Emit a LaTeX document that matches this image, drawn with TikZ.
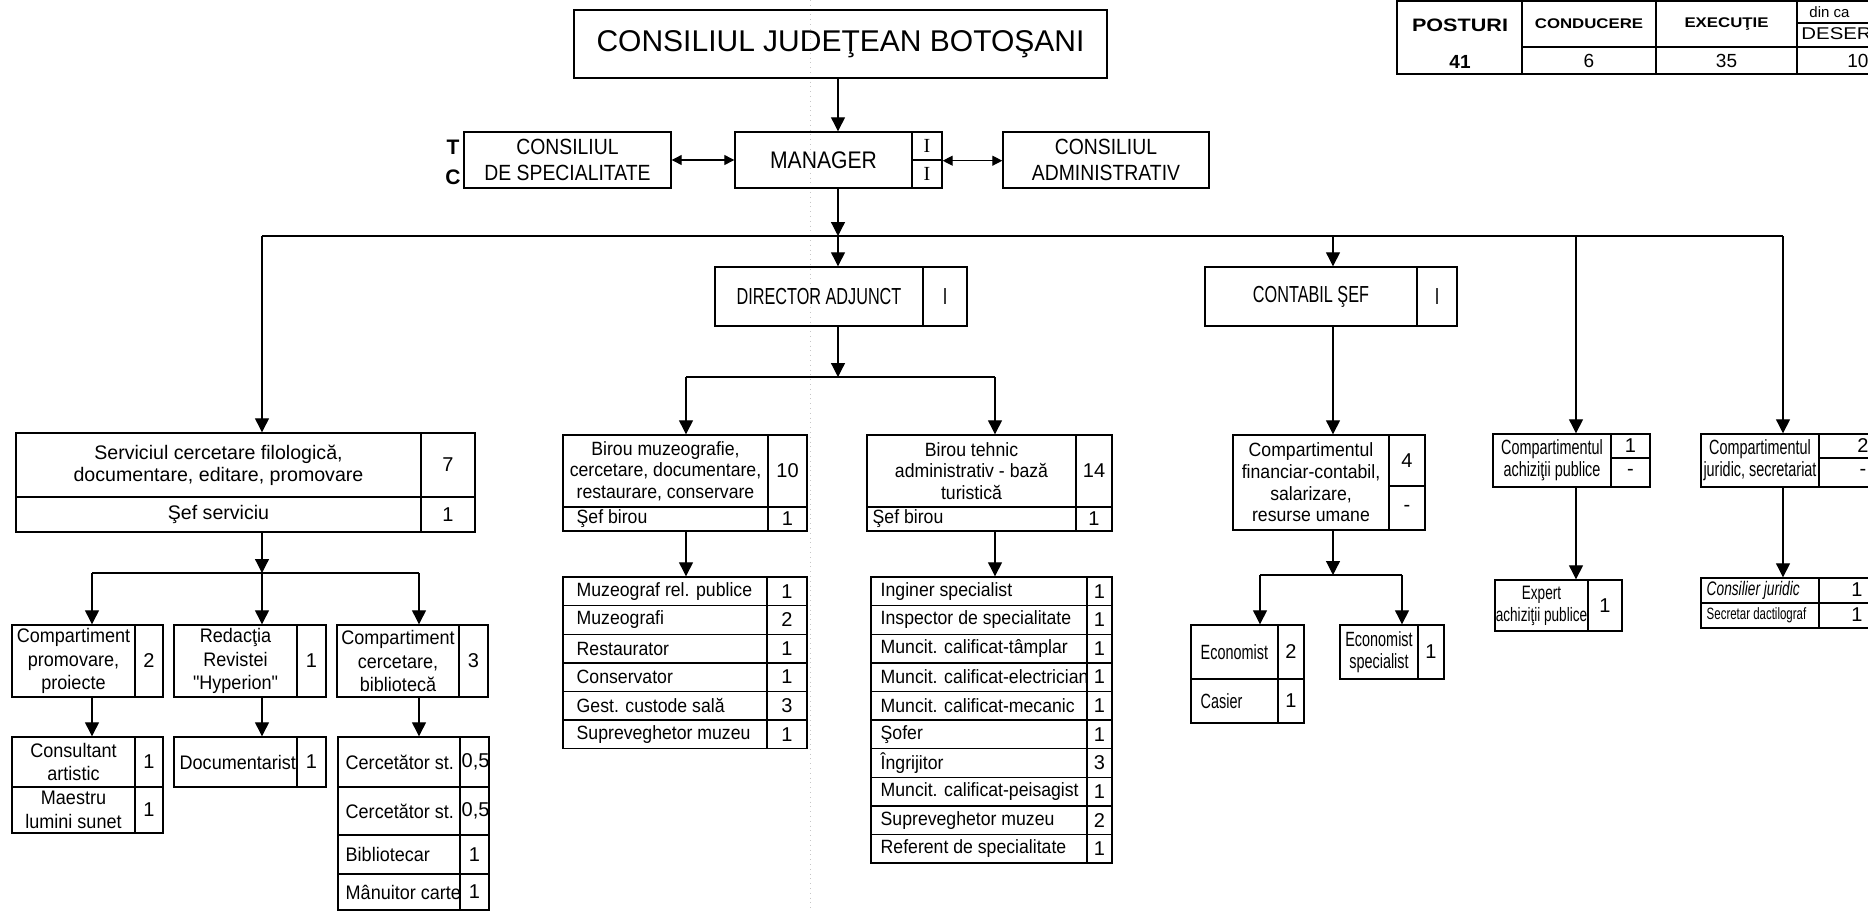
\documentclass[tikz,border=0pt]{standalone}
\usepackage{fontspec}
\usepackage{tikz}
\usetikzlibrary{arrows.meta,fit,positioning}
\setmainfont{Liberation Sans}
\newfontfamily\narrowfont[FakeStretch=0.88]{Liberation Sans}
\newfontfamily\condfont[FakeStretch=0.7]{Liberation Sans}
\newfontfamily\bodyfont[FakeStretch=0.92]{Liberation Sans}
\newfontfamily\widefont[FakeStretch=1.2]{Liberation Sans}
\newfontfamily\romanfont{Liberation Serif}
\newcommand{\fTitle}{\fontsize{15}{18}\selectfont}
\newcommand{\fHead}{\narrowfont\fontsize{11}{12.8}\selectfont}
\newcommand{\fMgr}{\narrowfont\fontsize{12}{14}\selectfont}
\newcommand{\fCond}{\condfont\fontsize{11.6}{14}\selectfont}
\newcommand{\fLetter}{\bfseries\fontsize{10.5}{12}\selectfont}
\newcommand{\fRoman}{\romanfont\fontsize{10}{12}\selectfont}
\newcommand{\fServ}{\fontsize{9.8}{10.8}\selectfont}
\newcommand{\fBody}{\bodyfont\fontsize{9.6}{10.8}\selectfont}
\newcommand{\fBox}{\bodyfont\fontsize{9.8}{11.7}\selectfont}
\newcommand{\fRight}{\condfont\fontsize{10.3}{11}\selectfont}
\newcommand{\fNum}{\fontsize{10}{12}\selectfont}
\newcommand{\fSmall}{\condfont\fontsize{8.2}{10}\selectfont}
\newcommand{\fPost}{\widefont\bfseries\fontsize{9}{11}\selectfont}
\newcommand{\fColHead}{\widefont\bfseries\fontsize{7}{9}\selectfont}
\newcommand{\fTabNum}{\fontsize{9.5}{11}\selectfont}
%% a framed cell between two corners, with its text in the middle
\newcommand{\cellbox}[5][]{%
    \node[cell, fit={(#3)(#4)}] (#2) {};
    \node[txt, #1] (#2t) at (#2.center) {#5};}

\begin{document}
\begin{tikzpicture}[x=0.5pt, y=-0.5pt,
    cell/.style={draw, line width=0.7pt, inner sep=0pt},
    txt/.style={inner sep=0pt, align=center},
    link/.style={line width=0.6pt},
    arr/.style={line width=0.6pt, -{Triangle[length=7pt,width=7pt]}},
    twoway/.style={line width=0.6pt, {Triangle[length=5pt,width=5pt]}-{Triangle[length=5pt,width=5pt]}},
    pagebreak/.style={gray!45, dotted, line width=0.4pt}]
    %% page size of the scan, everything outside is cut away
    \path[use as bounding box] (0,0) rectangle (1868,911);
    \fill[white] (0,0) rectangle (1868,911);
    \clip (0,0) rectangle (1868,911);
    \draw[pagebreak] (810,0) -- (810,911);

    %% head of the chart
    \cellbox[font=\fTitle]{cjb}{574,10}{1107,78}{CONSILIUL JUDEŢEAN BOTOŞANI}
    \cellbox[font=\fHead]{cds}{464,132}{671,188}{CONSILIUL\\DE SPECIALITATE}
    \node[txt, font=\fLetter] (tl) at (453,147) {T};
    \node[txt, font=\fLetter] (cl) at (453,177) {C};
    \cellbox[font=\fMgr]{mgr}{735,132}{912,188}{MANAGER}
    \cellbox[font=\fRoman]{mgra}{912,132}{942,160}{I}
    \cellbox[font=\fRoman]{mgrb}{912,160}{942,188}{I}
    \cellbox[font=\fHead]{cad}{1003,132}{1209,188}{CONSILIUL\\ADMINISTRATIV}

    %% posts table, cut by the edge of the page
    \node[cell, fit={(1397,1)(1522,74)}] (post) {};
    \node[txt, font=\fPost] (postt) at (1460,25) {POSTURI};
    \node[txt, font=\bfseries\fTabNum] (postn) at (1460,62) {41};
    \cellbox[font=\fColHead]{cond}{1522,1}{1656,47}{CONDUCERE}
    \cellbox[font=\fTabNum]{condn}{1522,47}{1656,74}{6}
    \cellbox[font=\fColHead]{exe}{1656,1}{1797,47}{EXECUŢIE}
    \cellbox[font=\fTabNum]{exen}{1656,47}{1797,74}{35}
    \node[cell, fit={(1797,1)(1940,23)}] (dinc) {};
    \node[cell, fit={(1797,23)(1940,47)}] (des) {};
    \node[cell, fit={(1797,47)(1940,74)}] (desn) {};
    \node[txt, anchor=west, font=\fontsize{7.5}{9}\selectfont] (dinct) at (1809,12) {din ca};
    \node[txt, anchor=west, font=\widefont\fontsize{8.5}{10}\selectfont] (dest) at (1801,34) {DESER};
    \node[txt, anchor=west, font=\fTabNum] (desnt) at (1847,61) {10};

    %% second level
    \cellbox[font=\fCond]{da}{715,267}{923,326}{DIRECTOR ADJUNCT}
    \cellbox[font=\fCond]{dav}{923,267}{967,326}{I}
    \cellbox[font=\fCond]{cse}{1205,267}{1417,326}{CONTABIL ŞEF}
    \cellbox[font=\fCond]{csev}{1417,267}{1457,326}{I}

    %% serviciul (left branch)
    \cellbox[font=\fServ]{serv}{16,433}{421,497}{Serviciul cercetare filologică,\\documentare, editare, promovare}
    \cellbox[font=\fNum]{servv}{421,433}{475,497}{7}
    \cellbox[font=\fServ]{servs}{16,497}{421,532}{Şef serviciu}
    \cellbox[font=\fNum]{servsv}{421,497}{475,532}{1}

    \cellbox[font=\fBox]{cpp}{12,625}{135,697}{Compartiment\\promovare,\\proiecte}
    \cellbox[font=\fNum]{cppv}{135,625}{163,697}{2}
    \cellbox[font=\fBox]{rrh}{174,625}{297,697}{Redacţia\\Revistei\\"Hyperion"}
    \cellbox[font=\fNum]{rrhv}{297,625}{326,697}{1}
    \cellbox[font=\fBox]{ccb}{337,625}{459,697}{Compartiment\\cercetare,\\bibliotecă}
    \cellbox[font=\fNum]{ccbv}{459,625}{488,697}{3}

    \cellbox[font=\fBox]{con}{12,737}{135,787}{Consultant\\artistic}
    \cellbox[font=\fNum]{conv}{135,737}{163,787}{1}
    \cellbox[font=\fBox]{mls}{12,787}{135,833}{Maestru\\lumini sunet}
    \cellbox[font=\fNum]{mlsv}{135,787}{163,833}{1}

    \node[cell, fit={(174,737)(297,787)}] (doc) {};
    \node[txt, anchor=west, font=\fBox] (doct) at ([xshift=3pt]doc.west) {Documentarist};
    \cellbox[font=\fNum]{docv}{297,737}{326,787}{1}

    %% cercetare rows have their own heights
    \foreach \lbl/\ya/\yb [count=\i from 0] in {Cercetător st./737/787, Cercetător st./787/835, Bibliotecar/835/874, Mânuitor carte/874/910}{
        \node[cell, fit={(338,\ya)(460,\yb)}] (cst\i) {};
        \node[cell, fit={(460,\ya)(489,\yb)}] (cstv\i) {};
        \node[txt, anchor=west, font=\fBox] (cstt\i) at ([xshift=4pt]cst\i.west) {\lbl};
    }
    \node[txt, anchor=west, font=\fNum] (cstn0) at ([xshift=1pt]cstv0.west) {0,5};
    \node[txt, anchor=west, font=\fNum] (cstn1) at ([xshift=1pt]cstv1.west) {0,5};
    \node[txt, font=\fNum] (cstn2) at (cstv2) {1};
    \node[txt, font=\fNum] (cstn3) at (cstv3) {1};

    %% birouri under the director
    \cellbox[font=\fBody]{bmz}{563,435}{768,507}{Birou muzeografie,\\cercetare, documentare,\\restaurare, conservare}
    \cellbox[font=\fNum]{bmzv}{768,435}{807,507}{10}
    \node[cell, fit={(563,507)(768,531)}] (bmzs) {};
    \node[txt, anchor=west, font=\fBody] (bmzst) at ([xshift=7pt]bmzs.west) {Şef birou};
    \cellbox[font=\fNum]{bmzsv}{768,507}{807,531}{1}

    \cellbox[font=\fBody]{bth}{867,435}{1076,507}{Birou tehnic\\administrativ - bază\\turistică}
    \cellbox[font=\fNum]{bthv}{1076,435}{1112,507}{14}
    \node[cell, fit={(867,507)(1076,531)}] (bths) {};
    \node[txt, anchor=west, font=\fBody] (bthst) at ([xshift=3pt]bths.west) {Şef birou};
    \cellbox[font=\fNum]{bthsv}{1076,507}{1112,531}{1}

    \foreach \lbl/\val [count=\i from 0] in {Muzeograf rel. publice/1, Muzeografi/2, Restaurator/1, Conservator/1, Gest. custode sală/3, Supreveghetor muzeu/1}{
        \pgfmathsetmacro{\ya}{577+28.6*\i}
        \pgfmathsetmacro{\yb}{\ya+28.6}
        \node[cell, fit={(563,\ya)(767,\yb)}] (mz\i) {};
        \cellbox[font=\fNum]{mzv\i}{767,\ya}{807,\yb}{\val}
        \node[txt, anchor=west, font=\fBody] (mzt\i) at ([xshift=7pt]mz\i.west) {\lbl};
    }
    \foreach \lbl/\val [count=\i from 0] in {Inginer specialist/1, Inspector de specialitate/1, Muncit. calificat-tâmplar/1, Muncit. calificat-electrician/1, Muncit. calificat-mecanic/1, Şofer/1, Îngrijitor/3, Muncit. calificat-peisagist/1, Supreveghetor muzeu/2, Referent de specialitate/1}{
        \pgfmathsetmacro{\ya}{577+28.6*\i}
        \pgfmathsetmacro{\yb}{\ya+28.6}
        \node[cell, fit={(871,\ya)(1087,\yb)}] (ing\i) {};
        \cellbox[font=\fNum]{ingv\i}{1087,\ya}{1112,\yb}{\val}
        \node[txt, anchor=west, font=\fBody] (ingt\i) at ([xshift=5pt]ing\i.west) {\lbl};
    }

    %% contabil sef branch
    \cellbox[font=\fBody]{cfc}{1233,435}{1389,530}{Compartimentul\\financiar-contabil,\\salarizare,\\resurse umane}
    \cellbox[font=\fNum]{cfca}{1389,435}{1425,486}{4}
    \cellbox[font=\fNum]{cfcb}{1389,486}{1425,530}{-}

    \node[cell, fit={(1191,625)(1278,679)}] (eco) {};
    \node[txt, anchor=west, font=\fRight] (ecot) at ([xshift=5pt]eco.west) {Economist};
    \cellbox[font=\fNum]{ecov}{1278,625}{1304,679}{2}
    \node[cell, fit={(1191,679)(1278,723)}] (cas) {};
    \node[txt, anchor=west, font=\fRight] (cast) at ([xshift=5pt]cas.west) {Casier};
    \cellbox[font=\fNum]{casv}{1278,679}{1304,723}{1}
    \cellbox[font=\fRight]{ecs}{1340,625}{1418,679}{Economist\\specialist}
    \cellbox[font=\fNum]{ecsv}{1418,625}{1444,679}{1}

    %% achizitii and juridic
    \cellbox[font=\fRight]{cap}{1493,434}{1611,487}{Compartimentul\\achiziţii publice}
    \cellbox[font=\fNum]{capa}{1611,434}{1650,458}{1}
    \cellbox[font=\fNum]{capb}{1611,458}{1650,487}{-}
    \cellbox[font=\condfont\fontsize{9.7}{11}\selectfont]{exp}{1495,580}{1588,631}{Expert\\achiziţii publice}
    \cellbox[font=\fNum]{expv}{1588,580}{1622,631}{1}

    \cellbox[font=\fRight]{cjs}{1701,434}{1819,487}{Compartimentul\\juridic, secretariat}
    \node[cell, fit={(1819,434)(1905,458)}] (cjsa) {};
    \node[cell, fit={(1819,458)(1905,487)}] (cjsb) {};
    \node[txt, font=\fNum] (cjsat) at (1863,446) {2};
    \node[txt, font=\fNum] (cjsbt) at (1863,472) {-};
    \node[cell, fit={(1701,578)(1819,603)}] (cjr) {};
    \node[txt, anchor=west, font=\condfont\itshape\fontsize{9.8}{11}\selectfont] (cjrt) at ([xshift=3pt]cjr.west) {Consilier juridic};
    \node[cell, fit={(1819,578)(1905,603)}] (cjrv) {};
    \node[txt, font=\fNum] (cjrvt) at (1857,590) {1};
    \node[cell, fit={(1701,603)(1819,628)}] (sdc) {};
    \node[txt, anchor=west, font=\fSmall] (sdct) at ([xshift=3pt]sdc.west) {Secretar dactilograf};
    \node[cell, fit={(1819,603)(1905,628)}] (sdcv) {};
    \node[txt, font=\fNum] (sdcvt) at (1857,615) {1};

    %% junction points of the lines
    \coordinate (bus) at (838,236);
    \coordinate (jserv) at (262,236);
    \coordinate (jcse) at (1333,236);
    \coordinate (jcap) at (1576,236);
    \coordinate (jcjs) at (1783,236);
    \coordinate (jda) at (838,377);
    \coordinate (jbmz) at (686,377);
    \coordinate (jbth) at (995,377);
    \coordinate (jsub) at (262,573);
    \coordinate (jcpp) at (92,573);
    \coordinate (jccb) at (419,573);
    \coordinate (jcfc) at (1333,575);
    \coordinate (jeco) at (1260,575);
    \coordinate (jecs) at (1402,575);

    %% connectors
    \draw[arr] (bus |- cjb.south) -- (bus |- mgr.north);
    \draw[twoway] (cds.east) -- (mgr.west);
    \draw[twoway] (mgra.south east) -- (cad.west |- mgra.south east);
    \draw[arr] (bus |- mgr.south) -- (bus);
    \draw[link] (jserv) -- (jcjs);
    \draw[arr] (bus) -- (bus |- da.north);
    \draw[arr] (jserv) -- (jserv |- serv.north);
    \draw[arr] (jcse) -- (jcse |- cse.north);
    \draw[arr] (jcap) -- (jcap |- cap.north);
    \draw[arr] (jcjs) -- (jcjs |- cjs.north);

    \draw[arr] (jsub |- servs.south) -- (jsub);
    \draw[link] (jcpp) -- (jccb);
    \draw[arr] (jcpp) -- (jcpp |- cpp.north);
    \draw[arr] (jsub) -- (jsub |- rrh.north);
    \draw[arr] (jccb) -- (jccb |- ccb.north);
    \draw[arr] (jcpp |- cpp.south) -- (jcpp |- con.north);
    \draw[arr] (jsub |- rrh.south) -- (jsub |- doc.north);
    \draw[arr] (jccb |- ccb.south) -- (jccb |- cst0.north);

    \draw[arr] (jda |- da.south) -- (jda);
    \draw[link] (jbmz) -- (jbth);
    \draw[arr] (jbmz) -- (jbmz |- bmz.north);
    \draw[arr] (jbth) -- (jbth |- bth.north);
    \draw[arr] (jbmz |- bmzs.south) -- (jbmz |- mz0.north);
    \draw[arr] (jbth |- bths.south) -- (jbth |- ing0.north);

    \draw[arr] (jcse |- cse.south) -- (jcse |- cfc.north);
    \draw[arr] (jcfc |- cfc.south) -- (jcfc);
    \draw[link] (jeco) -- (jecs);
    \draw[arr] (jeco) -- (jeco |- eco.north);
    \draw[arr] (jecs) -- (jecs |- ecs.north);
    \draw[arr] (jcap |- cap.south) -- (jcap |- exp.north);
    \draw[arr] (jcjs |- cjs.south) -- (jcjs |- cjr.north);
\end{tikzpicture}
\end{document}
